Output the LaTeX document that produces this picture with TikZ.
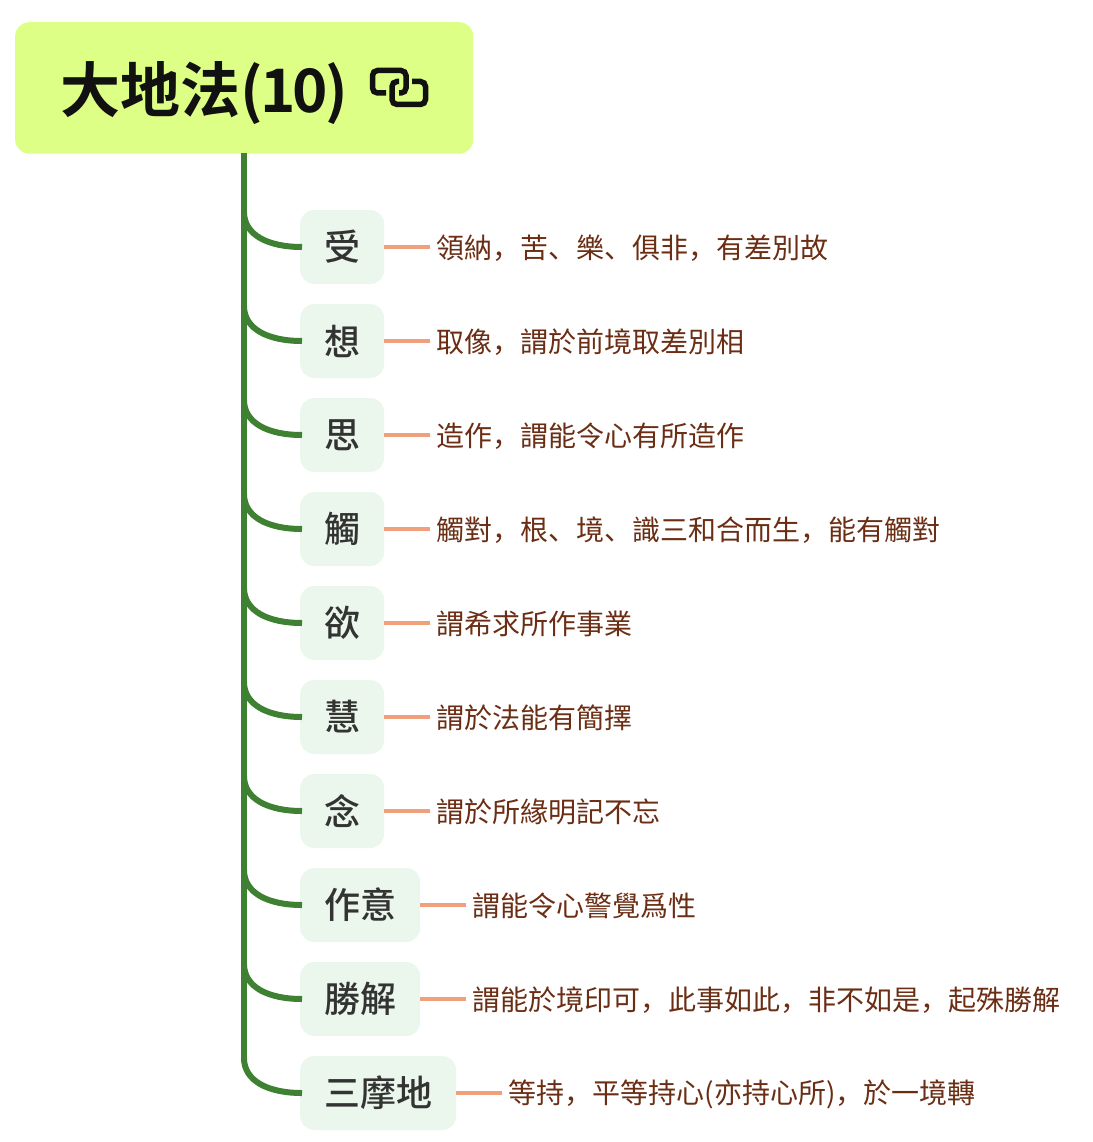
\documentclass[tikz,border=0pt]{standalone}
\usepackage{fontspec}
\usetikzlibrary{positioning}
\setmainfont{Noto Sans CJK SC}
\newfontfamily\boldcjk{Noto Sans CJK SC Bold}
\newfontfamily\medcjk{Noto Sans CJK SC Medium}

\definecolor{rootfill}{HTML}{DDFF85}
\definecolor{childfill}{HTML}{EBF7EC}
\definecolor{trunkgreen}{HTML}{3F8132}
\definecolor{leafline}{HTML}{F0A07A}
\definecolor{leaftext}{HTML}{6B2E14}
\definecolor{childtext}{HTML}{333333}
\definecolor{roottext}{HTML}{111111}

\tikzset{
    rootbox/.style={fill=rootfill, rounded corners=14pt, minimum width=458pt, minimum height=131.5pt, inner sep=0pt},
    titletext/.style={inner sep=0pt, text=roottext, font=\boldcjk\fontsize{60}{60}\selectfont},
    childbox/.style={fill=childfill, rounded corners=14pt, minimum height=74pt, inner xsep=24pt, inner ysep=0pt, text=childtext, font=\medcjk\fontsize{36}{36}\selectfont},
    leafbox/.style={inner xsep=6pt, inner ysep=0pt, yshift=-1pt, text=leaftext, font=\fontsize{28}{28}\selectfont},
    trunk/.style={draw=trunkgreen, line width=6pt},
    leafline/.style={draw=leafline, line width=4pt},
    linkicon/.style={draw=roottext, line width=5.5pt, rounded corners=5pt}
}

\begin{document}
\begin{tikzpicture}[x=1pt, y=-1pt]

    % Page frame
    \useasboundingbox (0,0) rectangle (1092,1142);

    % Branch positions
    \def\xchild{300}
    \def\ytop{247}
    \def\dy{94}
    \def\dleaf{46pt}

    % Root
    \node[rootbox, anchor=north west] (root) at (15,22) {};
    \node[titletext, anchor=west] (title) at (60.5,93) {大地法{\addfontfeature{LetterSpace=-5}(10)}};

    % Link icon
    \draw[linkicon] (386,93) -- (372.5,93) -- (372.5,70.5) -- (406,70.5) -- (406,93) -- (399,93);
    \draw[linkicon] (412,81.5) -- (425.5,81.5) -- (425.5,104.5) -- (392,104.5) -- (392,81.5) -- (399,81.5);

    % Trunk
    \coordinate (trunkend) at (244,1060);
    \draw[trunk] (244,153) -- (trunkend);

    % Branches
    \foreach \name/\label/\leaf [count=\i from 0] in {
        shou/受/領納，苦、樂、俱非，有差別故,
        xiang/想/取像，謂於前境取差別相,
        si/思/造作，謂能令心有所造作,
        chu/觸/觸對，根、境、識三和合而生，能有觸對,
        yu/欲/謂希求所作事業,
        hui/慧/謂於法能有簡擇,
        nian/念/謂於所緣明記不忘,
        zuoyi/作意/謂能令心警覺爲性,
        shengjie/勝解/謂能於境印可，此事如此，非不如是，起殊勝解,
        sanmodi/三摩地/等持，平等持心(亦持心所)，於一境轉}{
        \pgfmathsetmacro{\ychild}{\ytop+\i*\dy}
        \node[childbox, anchor=west] (\name) at (\xchild,\ychild) {\label};
        \node[leafbox, right=\dleaf of \name] (\name leaf) {\leaf};
        \draw[leafline] (\name.east) -- (\name leaf.west |- \name.east);
        \coordinate (\name fork) at (244,\ychild-35);
        \draw[trunk] (\name fork) .. controls (244,\ychild-12) and (268,\ychild) .. ([xshift=2pt]\name.west);
    }

\end{tikzpicture}
\end{document}
